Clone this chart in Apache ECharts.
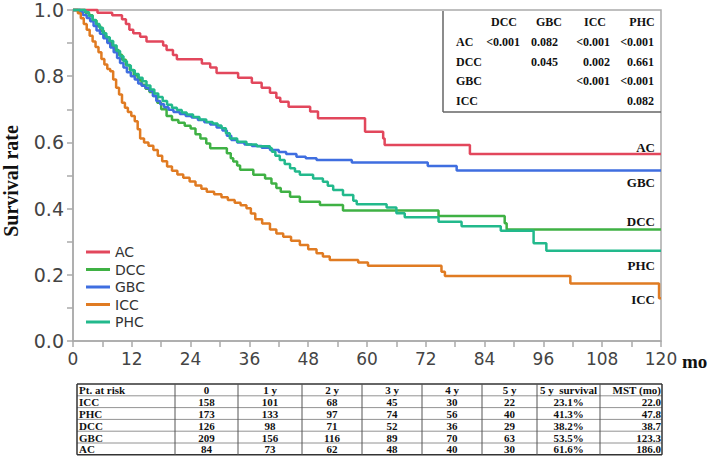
<!DOCTYPE html>
<html>
<head>
<meta charset="utf-8">
<script src="https://cdn.jsdelivr.net/npm/echarts@6/dist/echarts.min.js"></script>
<style>
html,body{margin:0;padding:0;background:#fff;}
#chart{width:709px;height:456px;}
</style>
</head>
<body>
<div id="chart"></div>
<script>
// ---------- data ----------
const groups = ['AC', 'DCC', 'GBC', 'ICC', 'PHC'];
const colors = ['#e2475c', '#3fb144', '#3f6ee0', '#e07b22', '#22b98c'];

// Kaplan-Meier steps: [month, survival after the event]
const acData = [[0,1],[5,0.992],[8,0.984],[10,0.972],[10.8,0.958],[11.5,0.94],[12.3,0.93],[13.7,0.919],[15,0.905],[18.4,0.893],[19.1,0.879],[20.4,0.864],[21.2,0.851],[26.3,0.838],[28,0.826],[29.3,0.81],[33.7,0.795],[36.5,0.78],[38.5,0.765],[40.2,0.75],[41.5,0.735],[42.3,0.723],[44,0.708],[48.4,0.693],[50,0.673],[59.6,0.632],[63.3,0.612],[63.6,0.592],[81,0.565],[120,0.565]];

const dccData = [[0,1],[2.5,0.992],[3.3,0.984],[4,0.968],[4.8,0.952],[5.6,0.937],[6.3,0.92],[7,0.905],[7.8,0.89],[8.5,0.879],[9.3,0.865],[10,0.85],[10.8,0.834],[11.6,0.819],[12.4,0.803],[13.2,0.788],[14,0.774],[14.8,0.762],[15.6,0.752],[16.4,0.74],[17.2,0.72],[18,0.7],[19.1,0.68],[20.2,0.668],[21.5,0.659],[22.8,0.65],[24,0.642],[25,0.625],[26,0.612],[27.2,0.597],[28,0.582],[31.4,0.567],[32.2,0.552],[32.7,0.542],[33.5,0.53],[34.1,0.517],[36.8,0.502],[39.2,0.491],[40.5,0.476],[41.5,0.462],[42.4,0.451],[44.3,0.436],[46.3,0.421],[50.4,0.411],[55.1,0.394],[74.6,0.378],[88.1,0.356],[88.5,0.337],[120,0.337]];

const gbcData = [[0,1],[1.5,0.995],[2,0.985],[2.8,0.976],[3.5,0.966],[4.2,0.952],[4.8,0.938],[5.5,0.928],[6.2,0.915],[7,0.9],[7.6,0.887],[8.3,0.872],[9,0.855],[9.6,0.84],[10.3,0.826],[11,0.812],[11.8,0.8],[12.6,0.79],[13.3,0.778],[14,0.771],[14.8,0.764],[15.6,0.756],[16.3,0.74],[17,0.725],[17.8,0.715],[18.6,0.706],[19.5,0.699],[20.5,0.692],[21.8,0.686],[23,0.68],[24.2,0.675],[25.5,0.668],[26.8,0.661],[28,0.654],[29.3,0.645],[30.5,0.636],[31.4,0.62],[32.3,0.607],[33.5,0.6],[35,0.594],[36.5,0.589],[38.5,0.584],[40.2,0.577],[42,0.571],[43.5,0.565],[45.6,0.557],[47.5,0.552],[49.7,0.547],[56.9,0.539],[72.4,0.529],[78.3,0.515],[120,0.515]];

const iccData = [[0,1],[1,0.99],[1.6,0.975],[2.2,0.958],[2.8,0.94],[3.4,0.922],[4,0.905],[4.6,0.888],[5.2,0.872],[5.8,0.852],[6.4,0.835],[7,0.822],[7.6,0.815],[8.2,0.79],[8.8,0.765],[9.4,0.745],[10,0.72],[10.6,0.705],[11.2,0.692],[11.9,0.68],[12.6,0.664],[13.2,0.64],[13.7,0.612],[14.5,0.6],[15.4,0.59],[16.4,0.577],[17.3,0.56],[18.2,0.543],[19.2,0.527],[20.2,0.514],[21.3,0.503],[22.5,0.493],[23.8,0.482],[25,0.47],[26.2,0.46],[27.3,0.451],[28.8,0.443],[30.3,0.434],[31.6,0.426],[33,0.418],[34.2,0.41],[35.4,0.401],[36.3,0.385],[37.2,0.368],[38.6,0.355],[40.2,0.337],[41.5,0.325],[42.9,0.315],[44.5,0.303],[46.3,0.29],[48,0.277],[49.7,0.265],[51,0.255],[52.4,0.245],[58.2,0.237],[60.2,0.227],[75.2,0.209],[75.9,0.196],[101.5,0.174],[119.6,0.129],[120,0.129]];

const phcData = [[0,1],[2.5,0.994],[3.2,0.983],[4,0.97],[4.7,0.958],[5.4,0.946],[6.1,0.93],[6.8,0.918],[7.5,0.906],[8.2,0.893],[8.9,0.876],[9.6,0.86],[10.3,0.845],[11,0.832],[11.8,0.818],[12.6,0.807],[13.4,0.795],[14.2,0.785],[15,0.772],[15.8,0.76],[16.6,0.748],[17.4,0.737],[18.3,0.725],[19.2,0.714],[20.2,0.705],[21.2,0.698],[22.2,0.69],[23.2,0.684],[24.5,0.677],[25.8,0.669],[27.2,0.662],[28.5,0.657],[29.5,0.651],[30.3,0.643],[31.2,0.628],[32,0.612],[33.5,0.602],[35.4,0.594],[37.5,0.588],[40.2,0.582],[40.6,0.572],[41.3,0.56],[42.2,0.547],[43.2,0.535],[44.3,0.522],[45.3,0.512],[46.3,0.502],[49,0.491],[51,0.481],[52,0.469],[53.1,0.456],[55.1,0.441],[57.2,0.424],[57.9,0.413],[64,0.403],[66,0.386],[67.7,0.374],[74.6,0.36],[79.3,0.347],[87.3,0.333],[94,0.295],[96.6,0.273],[120,0.273]];

const seriesData = [acData, dccData, gbcData, iccData, phcData];

// axis ranges (months, survival)
const xMin = 0, xMax = 120, xStep = 12;
const yMin = 0, yMax = 1, yStep = 0.2;

// p-value table
const pCols = ['DCC', 'GBC', 'ICC', 'PHC'];
const pRows = ['AC', 'DCC', 'GBC', 'ICC'];
const pAC  = ['<0.001', '0.082', '<0.001', '<0.001'];
const pDCC = ['', '0.045', '0.002', '0.661'];
const pGBC = ['', '', '<0.001', '<0.001'];
const pICC = ['', '', '', '0.082'];
const pValues = [pAC, pDCC, pGBC, pICC];

// end-of-curve labels (top to bottom)
const endLabels = ['AC', 'GBC', 'DCC', 'PHC', 'ICC'];

// number-at-risk table
const riskHeader = ['Pt. at risk', '0', '1 y', '2 y', '3 y', '4 y', '5 y', '5 y  survival', 'MST (mo)'];
const riskGroups = ['ICC', 'PHC', 'DCC', 'GBC', 'AC'];
const riskICC = ['158', '101', '68', '45', '30', '22', '23.1%', '22.0'];
const riskPHC = ['173', '133', '97', '74', '56', '40', '41.3%', '47.8'];
const riskDCC = ['126', '98', '71', '52', '36', '29', '38.2%', '38.7'];
const riskGBC = ['209', '156', '116', '89', '70', '63', '53.5%', '123.3'];
const riskAC  = ['84', '73', '62', '48', '40', '30', '61.6%', '186.0'];
const riskRows = [riskICC, riskPHC, riskDCC, riskGBC, riskAC];

// ---------- layout ----------
const G = {left: 73, right: 661, top: 10, bottom: 341};
const serif = '"Liberation Serif", "Times New Roman", serif';
const sans = '"DejaVu Sans", Verdana, sans-serif';

const graphics = [];

// y-axis title
graphics.push({type: 'text', x: 11, y: 181, rotation: Math.PI / 2,
  style: {text: 'Survival rate', font: 'bold 20px ' + serif, fill: '#111', align: 'center', verticalAlign: 'middle'}});
// x-axis unit
graphics.push({type: 'text', x: 682, y: 361,
  style: {text: 'mo', font: 'bold 19px ' + serif, fill: '#111', align: 'left', verticalAlign: 'middle'}});

// end labels
const endY = [147, 182, 221, 265, 299];
endLabels.forEach((t, i) => {
  graphics.push({type: 'text', x: 655, y: endY[i],
    style: {text: t, font: 'bold 13px ' + serif, fill: '#111', align: 'right', verticalAlign: 'middle'}});
});

// p-value table box
graphics.push({type: 'line', shape: {x1: 443, y1: 11, x2: 443, y2: 112}, style: {stroke: '#666', lineWidth: 1.5}});
graphics.push({type: 'line', shape: {x1: 443, y1: 112, x2: 661, y2: 112}, style: {stroke: '#666', lineWidth: 1.5}});
const pHeadX = [504, 549, 595, 642];
const pRightX = [520, 558, 610, 654];
const pRowY = [42, 62, 81, 101];
const pFont = 'bold 12px ' + serif;
pCols.forEach((c, j) => {
  graphics.push({type: 'text', x: pHeadX[j], y: 22, style: {text: c, font: pFont, fill: '#111', align: 'center', verticalAlign: 'middle'}});
});
pRows.forEach((r, i) => {
  graphics.push({type: 'text', x: 456, y: pRowY[i], style: {text: r, font: pFont, fill: '#111', align: 'left', verticalAlign: 'middle'}});
  pValues[i].forEach((v, j) => {
    if (v) graphics.push({type: 'text', x: pRightX[j], y: pRowY[i], style: {text: v, font: pFont, fill: '#111', align: 'right', verticalAlign: 'middle'}});
  });
});

// risk table
const colX = [77, 175, 238, 302, 362, 422, 482, 537, 600, 662];
const rowTop = 384, rowH = 11.8, nRows = 6;
const tBottom = rowTop + rowH * nRows;
for (let i = 0; i <= nRows; i++) {
  const y = rowTop + rowH * i;
  const outer = (i === 0 || i === nRows);
  graphics.push({type: 'line', shape: {x1: colX[0], y1: y, x2: colX[colX.length - 1], y2: y},
    style: {stroke: outer ? '#333' : '#777', lineWidth: outer ? 1.5 : 0.8}});
}
colX.forEach((x, j) => {
  const outer = (j === 0 || j === colX.length - 1);
  graphics.push({type: 'line', shape: {x1: x, y1: rowTop, x2: x, y2: tBottom},
    style: {stroke: outer ? '#333' : '#555', lineWidth: outer ? 1.5 : 1}});
});
const tFont = 'bold 11px ' + serif;
function cellText(txt, j, i) {
  const yc = rowTop + rowH * i + rowH / 2 + 0.5;
  let x, align;
  if (j === 0) { x = colX[0] + 2; align = 'left'; }
  else if (j === colX.length - 2) { x = colX[j + 1] - 1; align = 'right'; }
  else { x = (colX[j] + colX[j + 1]) / 2; align = 'center'; }
  graphics.push({type: 'text', x: x, y: yc, style: {text: txt, font: tFont, lineHeight: 10, fill: '#111', align: align, verticalAlign: 'middle'}});
}
riskHeader.forEach((h, j) => cellText(h, j, 0));
riskGroups.forEach((g, i) => {
  cellText(g, 0, i + 1);
  riskRows[i].forEach((v, j) => cellText(v, j + 1, i + 1));
});

// ---------- chart ----------
const axisGray = '#aaaaaa';
const chart = echarts.init(document.getElementById('chart'), null, {renderer: 'svg'});
chart.setOption({
  animation: false,
  backgroundColor: '#fff',
  grid: {left: G.left, right: 709 - G.right, top: G.top, bottom: 456 - G.bottom,
    show: true, borderColor: axisGray, borderWidth: 1.5, backgroundColor: 'transparent'},
  legend: {
    orient: 'vertical', left: 81, top: 240,
    icon: 'rect', itemWidth: 24, itemHeight: 3, itemGap: 3.5,
    data: groups,
    textStyle: {fontFamily: sans, fontSize: 14, lineHeight: 14, color: '#333'}
  },
  xAxis: {
    type: 'value', min: xMin, max: xMax, interval: xStep,
    axisLine: {lineStyle: {color: axisGray, width: 1.5}},
    axisTick: {show: true, length: 6, lineStyle: {color: axisGray, width: 1.5}},
    minorTick: {show: true, splitNumber: 2, length: 6, lineStyle: {color: axisGray, width: 1.5}},
    splitLine: {show: false},
    axisLabel: {fontFamily: sans, fontSize: 17, color: '#444', margin: 9}
  },
  yAxis: {
    type: 'value', min: yMin, max: yMax, interval: yStep,
    axisLine: {show: true, lineStyle: {color: axisGray, width: 1.5}},
    axisTick: {show: true, length: 6, lineStyle: {color: axisGray, width: 1.5}},
    minorTick: {show: true, splitNumber: 2, length: 6, lineStyle: {color: axisGray, width: 1.5}},
    splitLine: {show: false},
    axisLabel: {fontFamily: sans, fontSize: 19, color: '#444', margin: 9,
      formatter: v => v.toFixed(1)}
  },
  series: groups.map((g, i) => ({
    name: g, type: 'line', step: 'end', data: seriesData[i],
    symbol: 'none', showSymbol: false,
    lineStyle: {color: colors[i], width: 2.5},
    itemStyle: {color: colors[i]},
    clip: false
  })),
  graphic: graphics
});
</script>
</body>
</html>
